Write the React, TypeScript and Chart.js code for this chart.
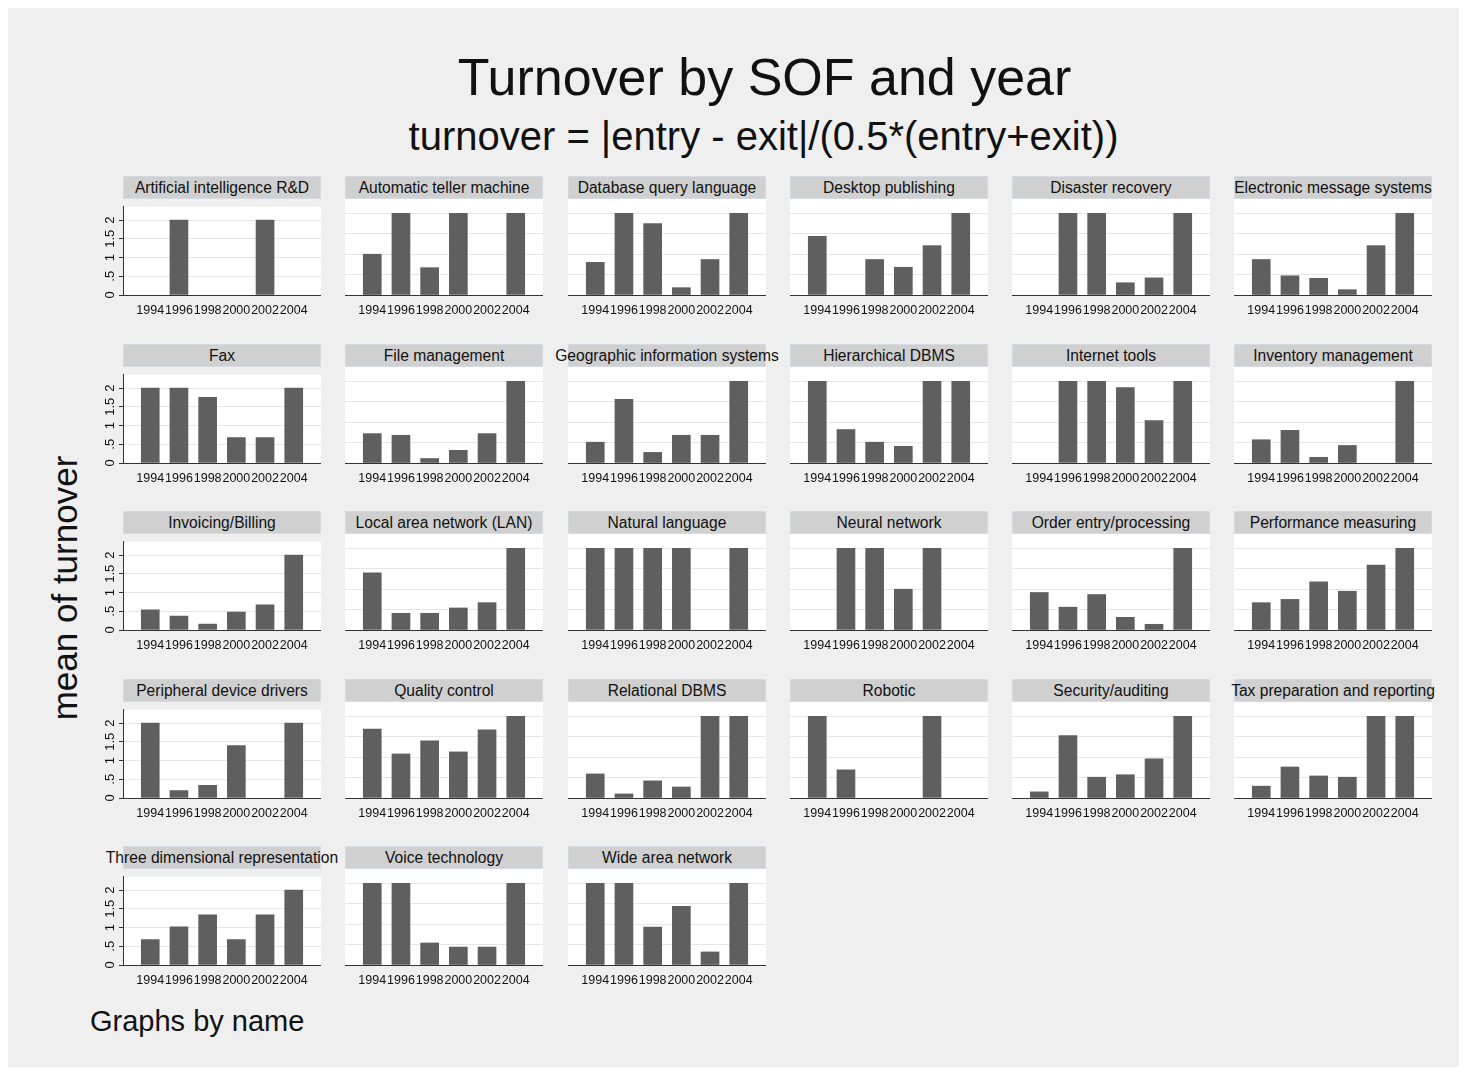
import React, { useEffect, useRef } from "react";
import { Chart, registerables } from "chart.js";

Chart.register(...registerables);

// ---------- data ----------
const years = [1994, 1996, 1998, 2000, 2002, 2004];
const yTickValues = [0, 0.5, 1, 1.5, 2];
const yTickLabels = ["0", ".5", "1", "1.5", "2"];

const panelNames = [
  "Artificial intelligence R&D",
  "Automatic teller machine",
  "Database query language",
  "Desktop publishing",
  "Disaster recovery",
  "Electronic message systems",
  "Fax",
  "File management",
  "Geographic information systems",
  "Hierarchical DBMS",
  "Internet tools",
  "Inventory management",
  "Invoicing/Billing",
  "Local area network (LAN)",
  "Natural language",
  "Neural network",
  "Order entry/processing",
  "Performance measuring",
  "Peripheral device drivers",
  "Quality control",
  "Relational DBMS",
  "Robotic",
  "Security/auditing",
  "Tax preparation and reporting",
  "Three dimensional representation",
  "Voice technology",
  "Wide area network",
];

const artificialIntelligence = [0, 2, 0, 0, 2, 0];
const automaticTeller = [1.0, 2, 0.67, 2, 0, 2];
const databaseQuery = [0.8, 2, 1.75, 0.18, 0.87, 2];
const desktopPublishing = [1.44, 0, 0.87, 0.68, 1.21, 2];
const disasterRecovery = [0, 2, 2, 0.3, 0.42, 2];
const electronicMessage = [0.87, 0.47, 0.41, 0.13, 1.21, 2];
const fax = [2, 2, 1.75, 0.68, 0.68, 2];
const fileManagement = [0.72, 0.68, 0.11, 0.31, 0.72, 2];
const geographicInfo = [0.51, 1.56, 0.26, 0.68, 0.68, 2];
const hierarchicalDbms = [2, 0.82, 0.51, 0.41, 2, 2];
const internetTools = [0, 2, 2, 1.85, 1.04, 2];
const inventoryManagement = [0.57, 0.8, 0.14, 0.43, 0, 2];
const invoicingBilling = [0.54, 0.37, 0.16, 0.48, 0.67, 2];
const localAreaNetwork = [1.4, 0.41, 0.41, 0.54, 0.67, 2];
const naturalLanguage = [2, 2, 2, 2, 0, 2];
const neuralNetwork = [0, 2, 2, 1.0, 2, 0];
const orderEntry = [0.92, 0.56, 0.87, 0.31, 0.14, 2];
const performanceMeasuring = [0.67, 0.75, 1.18, 0.95, 1.59, 2];
const peripheralDrivers = [2, 0.2, 0.34, 1.4, 0, 2];
const qualityControl = [1.69, 1.08, 1.4, 1.13, 1.67, 2];
const relationalDbms = [0.59, 0.1, 0.42, 0.27, 2, 2];
const robotic = [2, 0.69, 0, 0, 2, 0];
const securityAuditing = [0.15, 1.53, 0.51, 0.57, 0.96, 2];
const taxPreparation = [0.29, 0.76, 0.54, 0.51, 2, 2];
const threeDimensional = [0.68, 1.02, 1.34, 0.68, 1.34, 2];
const voiceTechnology = [2, 2, 0.54, 0.44, 0.44, 2];
const wideAreaNetwork = [2, 2, 0.93, 1.44, 0.32, 2];

const panelValues = [
  artificialIntelligence, automaticTeller, databaseQuery, desktopPublishing, disasterRecovery, electronicMessage,
  fax, fileManagement, geographicInfo, hierarchicalDbms, internetTools, inventoryManagement,
  invoicingBilling, localAreaNetwork, naturalLanguage, neuralNetwork, orderEntry, performanceMeasuring,
  peripheralDrivers, qualityControl, relationalDbms, robotic, securityAuditing, taxPreparation,
  threeDimensional, voiceTechnology, wideAreaNetwork,
];

// ---------- layout / style ----------
const FONT = '"Liberation Sans", Arial, Helvetica, sans-serif';
const W = 1451;
const H = 1059;
const COL_LEFT = [115, 337, 560, 782, 1004, 1226];
const AXIS_Y = [287, 455, 622, 790, 957];
const PLOT_W = 198;
const PLOT_H = 96;
const STRIP_H = 23;
const YAXIS_W = 30;
const XAXIS_H = 28;
const X_MIN = 1992.1;
const X_MAX = 2005.9;
const Y_MAX = 2.353;
const BAR_COLOR = "#5f5f5f";
const GRID_COLOR = "#e6e6e6";
const AXIS_COLOR = "#333333";
const BG = "#efefef";
const STRIP_BG = "#d0d0d0";

const whiteArea = {
  id: "whiteArea",
  beforeDraw(chart: any) {
    const { ctx, chartArea: a } = chart;
    ctx.save();
    ctx.fillStyle = "#ffffff";
    ctx.fillRect(a.left, a.top, a.right - a.left, a.bottom - a.top);
    ctx.restore();
  },
};

function Panel({ index }: { index: number }) {
  const ref = useRef<HTMLCanvasElement>(null);
  const col = index % 6;
  const row = Math.floor(index / 6);
  const showY = col === 0;
  const yw = showY ? YAXIS_W : 0;

  useEffect(() => {
    if (!ref.current) return;
    const values = panelValues[index];
    const chart = new Chart(ref.current, {
      type: "bar",
      data: {
        datasets: [
          {
            // zero-height bars are not drawn (as in the reference)
            data: years.map((yr, i) => ({ x: yr, y: values[i] === 0 ? null : values[i] })),
            backgroundColor: BAR_COLOR,
            borderWidth: 0,
            barThickness: 18,
          } as any,
        ],
      },
      options: {
        animation: false,
        responsive: false,
        maintainAspectRatio: false,
        layout: { padding: 0, autoPadding: false } as any,
        plugins: {
          legend: { display: false },
          tooltip: { enabled: false },
          title: { display: false },
        },
        scales: {
          x: {
            type: "linear",
            min: X_MIN,
            max: X_MAX,
            offset: false,
            afterBuildTicks: (axis: any) => {
              axis.ticks = years.map((v) => ({ value: v }));
            },
            afterFit: (s: any) => {
              s.height = XAXIS_H;
            },
            grid: { display: false, drawTicks: false },
            border: { display: true, color: AXIS_COLOR, width: 1, z: 2 },
            ticks: {
              autoSkip: false,
              maxRotation: 0,
              minRotation: 0,
              padding: 8,
              color: "#111",
              font: { family: FONT, size: 12.5 },
              callback: (v: any) => String(v),
            },
          },
          y: {
            type: "linear",
            min: 0,
            max: Y_MAX,
            afterBuildTicks: (axis: any) => {
              axis.ticks = yTickValues.map((v) => ({ value: v }));
            },
            afterFit: (s: any) => {
              s.width = yw;
            },
            grid: {
              display: true,
              color: (c: any) => (c.tick && c.tick.value === 0 ? "rgba(0,0,0,0)" : GRID_COLOR),
              lineWidth: 1,
              drawTicks: showY,
              tickLength: 4,
              tickColor: AXIS_COLOR,
            },
            border: { display: showY, color: AXIS_COLOR, width: 1 },
            ticks: {
              display: showY,
              minRotation: 90,
              maxRotation: 90,
              crossAlign: "center",
              padding: 0,
              color: "#111",
              font: { family: FONT, size: 13 },
              callback: (_v: any, i: number) => yTickLabels[i],
            },
          },
        } as any,
      },
      plugins: [whiteArea],
    });
    return () => chart.destroy();
  }, [index, yw, showY]);

  const plotTop = AXIS_Y[row] - PLOT_H;
  return (
    <>
      <div
        style={{
          position: "absolute",
          left: COL_LEFT[col],
          top: plotTop - STRIP_H,
          width: PLOT_W,
          height: STRIP_H,
          background: STRIP_BG,
          boxSizing: "border-box",
          border: "1px solid #d6dbe3",
          display: "flex",
          justifyContent: "center",
          alignItems: "center",
          whiteSpace: "nowrap",
          fontFamily: FONT,
          fontSize: 15.6,
          color: "#111",
        }}
      >
        {panelNames[index]}
      </div>
      <canvas
        ref={ref}
        width={yw + PLOT_W}
        height={PLOT_H + XAXIS_H}
        style={{
          position: "absolute",
          left: COL_LEFT[col] - yw,
          top: plotTop,
          width: yw + PLOT_W,
          height: PLOT_H + XAXIS_H,
        }}
      />
    </>
  );
}

export default function App() {
  return (
    <div
      style={{
        position: "relative",
        width: W,
        height: H,
        background: BG,
        overflow: "hidden",
        fontFamily: FONT,
        color: "#111",
      }}
    >
      <div
        style={{
          position: "absolute",
          left: 756.5,
          top: 43,
          transform: "translateX(-50%)",
          whiteSpace: "nowrap",
          fontSize: 52,
          lineHeight: 1,
        }}
      >
        Turnover by SOF and year
      </div>
      <div
        style={{
          position: "absolute",
          left: 755.5,
          top: 108,
          transform: "translateX(-50%)",
          whiteSpace: "nowrap",
          fontSize: 40,
          lineHeight: 1,
        }}
      >
        turnover = |entry - exit|/(0.5*(entry+exit))
      </div>
      <div
        style={{
          position: "absolute",
          left: 56,
          top: 579.5,
          transform: "translate(-50%, -50%) rotate(-90deg)",
          whiteSpace: "nowrap",
          fontSize: 35,
          lineHeight: 1,
        }}
      >
        mean of turnover
      </div>
      <div
        style={{
          position: "absolute",
          left: 82,
          top: 998.5,
          whiteSpace: "nowrap",
          fontSize: 29,
          lineHeight: 1,
        }}
      >
        Graphs by name
      </div>
      {panelNames.map((_, i) => (
        <Panel key={i} index={i} />
      ))}
    </div>
  );
}
